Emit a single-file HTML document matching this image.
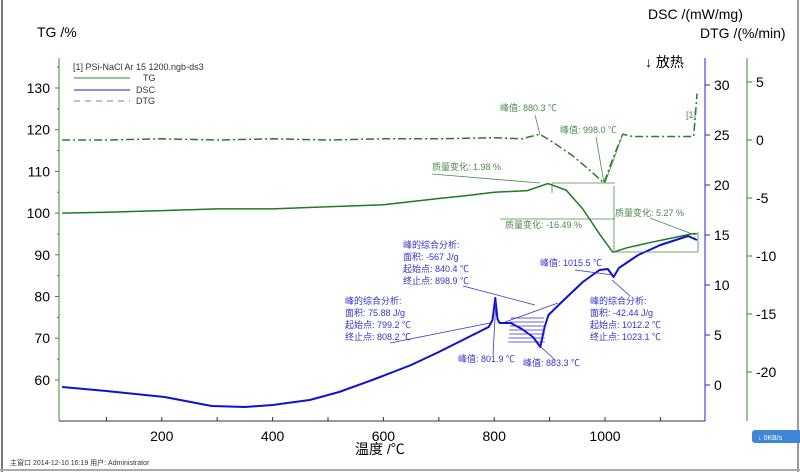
<!DOCTYPE html>
<html><head><meta charset="utf-8"><style>
body{margin:0;background:#fff;}
svg{display:block;font-family:"Liberation Sans","Noto Sans CJK SC",sans-serif;}
</style></head><body>
<svg id="c" width="800" height="472" viewBox="0 0 800 472" xmlns="http://www.w3.org/2000/svg">
<rect x="0" y="0" width="800" height="472" fill="#fff"/>
<line x1="2" y1="0" x2="2" y2="472" stroke="#777" stroke-width="2"/>
<line x1="798" y1="0" x2="798" y2="472" stroke="#999" stroke-width="2"/>
<line x1="0" y1="470" x2="800" y2="470" stroke="#aaa" stroke-width="2"/>
<g id="axes"></g><g id="marks"></g><g id="ann"></g>
<text x="37" y="37" font-size="14">TG /%</text>
<text x="648" y="19" font-size="14">DSC /(mW/mg)</text>
<text x="700" y="38" font-size="14">DTG /(%/min)</text>
<text x="645" y="67" font-size="14">↓ 放热</text>
<text x="355" y="454" font-size="14">温度 /℃</text>
<text x="10" y="465" font-size="7" fill="#333">主窗口    2014-12-10 16:19    用户: Administrator</text>
<g><rect x="752" y="430" width="50" height="13" rx="3" fill="#3f86d6"/><text x="758" y="440" font-size="7" fill="#fff">↓  0KB/s</text></g>
<g>
<text x="73" y="70" font-size="9" fill="#333">[1] PSi-NaCl Ar 15 1200.ngb-ds3</text>
<line x1="74" y1="78" x2="130" y2="78" stroke="#2f8f2f"/><text x="143" y="81" font-size="9" fill="#333">TG</text>
<line x1="74" y1="90" x2="130" y2="90" stroke="#2222cc"/><text x="136" y="93" font-size="9" fill="#333">DSC</text>
<line x1="74" y1="101" x2="130" y2="101" stroke="#6a9a6a" stroke-dasharray="6,5"/><text x="136" y="104" font-size="9" fill="#333">DTG</text>
</g>
</svg>
<script>
const tgT=[20,100,200,300,400,500,600,700,750,800,860,897,930,960,990,1014,1040,1080,1120,1160,1166];
const tgV=[100,100.2,100.6,101,101,101.5,102,103.5,104.2,105,105.4,107.1,105.5,101,95,90.6,91.7,92.9,94,95.1,95];
const dscT=[20,100,205,290,350,400,467,520,580,650,700,790,797,801.9,806,810,830,850,870,883.3,891,898,920,960,990,1005,1015.5,1025,1060,1100,1150,1166];
const dscV=[-0.2,-0.6,-1.2,-2.1,-2.2,-2.0,-1.5,-0.7,0.5,2.0,3.3,5.8,6.5,8.7,6.6,6.2,6.2,5.6,4.8,3.8,5.8,7.0,8.2,10.3,11.5,11.6,10.8,11.7,13,14,14.9,14.5];
const dtgT=[20,100,200,300,400,500,600,700,800,850,882,900,940,970,998,1015,1032,1050,1100,1160,1163,1166];
const dtgV=[0,0,0.1,0,0.1,0,0.1,0.1,0.2,0.1,0.5,0,-1.3,-2.5,-3.7,-1.5,0.5,0.3,0.3,0.3,2,4];
const xTicks=[200,400,600,800,1000];
const tgTicks=[60,70,80,90,100,110,120,130];
const dscTicks=[0,5,10,15,20,25,30];
const dtgTicks=[-20,-15,-10,-5,0,5];
const X=t=>51+0.554*t, YT=v=>88+(130-v)*4.17, YD=v=>385-10*v, YG=v=>140-11.6*v;
const NS='http://www.w3.org/2000/svg';
function mk(tag,at,par){const e=document.createElementNS(NS,tag);for(const k in at)e.setAttribute(k,at[k]);document.getElementById(par).appendChild(e);return e;}
let e=mk('line',{x1:59,y1:421,x2:705,y2:421,stroke:'#333'},'axes');


e=mk('line',{x1:59,y1:58,x2:59,y2:421,stroke:'#2f8f2f'},'axes');


e=mk('line',{x1:705,y1:58,x2:705,y2:421,stroke:'#2222cc'},'axes');


e=mk('line',{x1:747,y1:58,x2:747,y2:421,stroke:'#2f8f2f'},'axes');


for(let t=100;t<=1100;t+=100){mk('line',{x1:X(t),y1:421,x2:X(t),y2:417,stroke:'#333'},'axes');}
xTicks.forEach(t=>{const s=mk('text',{x:X(t),y:441,'font-size':14,'text-anchor':'middle'},'axes');s.textContent=t;

});
tgTicks.forEach(v=>{mk('line',{x1:55,y1:YT(v),x2:59,y2:YT(v),stroke:'#2f8f2f'},'axes');mk('line',{x1:57,y1:YT(v+5),x2:59,y2:YT(v+5),stroke:'#2f8f2f'},'axes');const s=mk('text',{x:50,y:YT(v)+5,'font-size':14,'text-anchor':'end'},'axes');s.textContent=v;

});
dscTicks.forEach(v=>{mk('line',{x1:705,y1:YD(v),x2:710,y2:YD(v),stroke:'#2222cc'},'axes');const s=mk('text',{x:714,y:YD(v)+5,'font-size':14},'axes');s.textContent=v;

});
dtgTicks.forEach(v=>{mk('line',{x1:747,y1:YG(v),x2:752,y2:YG(v),stroke:'#2f8f2f'},'axes');const s=mk('text',{x:756,y:YG(v)+5,'font-size':14},'axes');s.textContent=v;

});
function pts(T,V,Y){return T.map((t,i)=>X(t).toFixed(1)+','+Y(V[i]).toFixed(1)).join(' ');}
e=mk('polyline',{points:pts(dtgT,dtgV,YG),fill:'none',stroke:'#2a7a2a','stroke-width':1.5,'stroke-dasharray':'8,3,2,3'},'marks');


e=mk('polyline',{points:pts(tgT,tgV,YT),fill:'none',stroke:'#1f7a1f','stroke-width':1.5},'marks');


e=mk('polyline',{points:pts(dscT,dscV,YD),fill:'none',stroke:'#1010d0','stroke-width':2,'stroke-linejoin':'round'},'marks');


function L(x1,y1,x2,y2,c){mk('line',{x1,y1,x2,y2,stroke:c,'stroke-width':0.8},'ann');}
function T(x,y,s,c){const t=mk('text',{x,y,'font-size':9,fill:c},'ann');t.textContent=s;}
const g='#4a8a4a',b='#3333cc';
T(500,111,'峰值: 880.3 ℃',g);L(535,115,540,135,g);
T(560,133,'峰值: 998.0 ℃',g);L(596,137,604,183,g);L(623,134,605,183,g);
T(432,170,'质量变化: 1.98 %',g);L(432,174,540,183,g);L(552,183,615,183,g);L(552,183,552,193,g);
T(505,228,'质量变化: -16.49 %',g);L(500,219,615,219,g);L(614,186,614,252,g);
T(615,216,'质量变化: 5.27 %',g);L(650,218,695,235,g);L(615,252,698,252,g);L(698,232,698,252,g);
T(403,248,'峰的综合分析:',b);T(403,260,'面积:      -567 J/g',b);T(403,272,'起始点:  840.4 ℃',b);T(403,284,'终止点:  898.9 ℃',b);
L(463,286,535,305,b);
T(345,304,'峰的综合分析:',b);T(345,316,'面积:         75.88 J/g',b);T(345,328,'起始点:  799.2 ℃',b);T(345,340,'终止点:  808.2 ℃',b);
L(390,343,490,323,b);
T(458,362,'峰值: 801.9 ℃',b);L(493,355,496,300,b);
T(523,366,'峰值: 883.3 ℃',b);L(555,360,540,346,b);
T(540,266,'峰值: 1015.5 ℃',b);L(575,270,613,275,b);
T(590,304,'峰的综合分析:',b);T(590,316,'面积:          -42.44 J/g',b);T(590,328,'起始点:  1012.2 ℃',b);T(590,340,'终止点:  1023.1 ℃',b);
L(630,296,612,280,b);
for(let y=318;y<=343;y+=4){L(508+(343-y)*0.1,y,545-(343-y)*0.05,y,b);}
L(505,322,558,303,b);
T(686,118,'[1]',g);
</script>
</body></html>
